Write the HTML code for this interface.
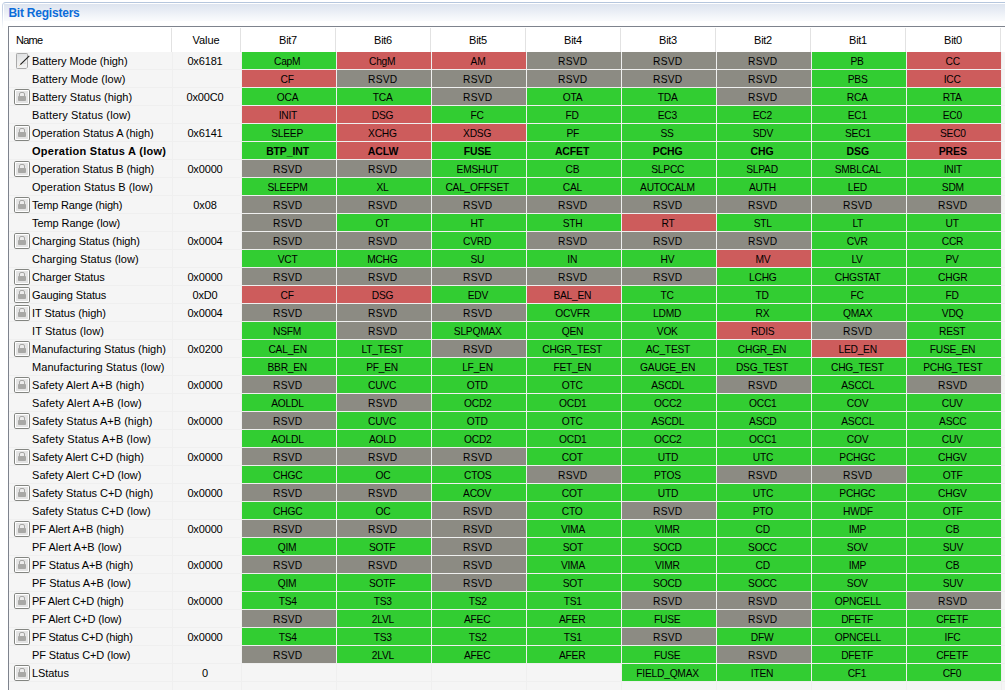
<!DOCTYPE html><html><head><meta charset="utf-8"><title>Bit Registers</title><style>
html,body{margin:0;padding:0;background:#fff;overflow:hidden;}
body{width:1005px;height:690px;overflow:hidden;position:relative;font-family:"Liberation Sans",sans-serif;font-size:11px;color:#000;}
#panel{position:absolute;left:2px;top:2px;width:1003px;height:27px;border-top:1px solid #b5c6dd;border-left:1px solid #c5d1e4;border-top-left-radius:4px;box-sizing:border-box;background:#fff;}
#grad{position:absolute;left:4px;top:4px;width:1001px;height:17px;background:linear-gradient(to bottom,#dde4ef 0px,#e7ecf4 6px,#f2f5f9 12px,#fafbfd 17px);}
#lfade{position:absolute;left:2px;top:10px;width:1px;height:19px;background:linear-gradient(to bottom,rgba(255,255,255,0),#fff);}
#title{position:absolute;left:8.4px;top:6px;letter-spacing:-0.22px;font-weight:bold;font-size:12px;color:#0c6cd9;line-height:15px;white-space:nowrap;}
#tbl{position:absolute;left:8px;top:26px;width:997px;height:664px;border-left:1px solid #7e838d;border-top:1px solid #7e838d;box-sizing:border-box;background:#f5f5f5;overflow:hidden;}
#hdr{position:absolute;left:0;top:0;width:996px;height:25px;background:#fff;}
.h{position:absolute;top:0;height:25px;line-height:26px;text-align:center;white-space:nowrap;letter-spacing:-0.3px;}
.hs{position:absolute;top:1px;width:1px;height:24px;background:#e2e2e2;}
.row{position:absolute;left:0;width:996px;height:18px;}
.row:after{content:"";position:absolute;left:0;top:17px;width:996px;height:1px;background:#efefef;}
.n{position:absolute;left:23px;top:0;line-height:18px;white-space:nowrap;}
.v{position:absolute;left:162px;width:68px;top:0;line-height:18px;text-align:center;white-space:nowrap;letter-spacing:-0.15px;}
.c{position:absolute;top:0;width:94px;height:17px;line-height:18px;text-align:center;white-space:nowrap;z-index:2;box-sizing:border-box;padding-right:3px;}
.c i{display:inline-block;font-style:normal;transform:scaleX(0.93);letter-spacing:-0.25px;}
.g{background:#32cd32;}
.r{background:#cd5c5c;}
.y{background:#8c8b83;}
.b{font-weight:bold;}

.c i.w{letter-spacing:0.25px;}
.b .c i{transform:scaleX(0.95);letter-spacing:-0.1px;}
.ic{position:absolute;left:5px;top:1px;}
.pen{left:5px;top:0px;}
.vl{position:absolute;top:25px;width:1px;height:638px;background:#efefef;z-index:1;}
</style></head><body>
<div id="panel"></div><div id="grad"></div><div id="lfade"></div><div id="title">Bit Registers</div>
<div id="tbl"><div id="hdr">
<div class="h" style="left:7px;text-align:left;letter-spacing:-0.75px">Name</div>
<div class="h" style="left:163px;width:68px;letter-spacing:-0.05px">Value</div>
<div class="hs" style="left:162px"></div>
<div class="hs" style="left:231px"></div>
<div class="h" style="left:232px;width:94px;">Bit7</div>
<div class="hs" style="left:326px"></div>
<div class="h" style="left:327px;width:94px;">Bit6</div>
<div class="hs" style="left:421px"></div>
<div class="h" style="left:422px;width:94px;">Bit5</div>
<div class="hs" style="left:516px"></div>
<div class="h" style="left:517px;width:94px;">Bit4</div>
<div class="hs" style="left:611px"></div>
<div class="h" style="left:612px;width:94px;">Bit3</div>
<div class="hs" style="left:706px"></div>
<div class="h" style="left:707px;width:94px;">Bit2</div>
<div class="hs" style="left:801px"></div>
<div class="h" style="left:802px;width:94px;">Bit1</div>
<div class="hs" style="left:896px"></div>
<div class="h" style="left:897px;width:94px;">Bit0</div>
<div class="hs" style="left:991px"></div>
</div>
<div class="vl" style="left:163px"></div>
<div class="vl" style="left:232px"></div>
<div class="vl" style="left:327px"></div>
<div class="vl" style="left:422px"></div>
<div class="vl" style="left:517px"></div>
<div class="vl" style="left:612px"></div>
<div class="vl" style="left:707px"></div>
<div class="vl" style="left:802px"></div>
<div class="vl" style="left:897px"></div>
<div class="vl" style="left:992px"></div>
<div class="row" style="top:25px"><svg class="ic pen" width="16" height="17" viewBox="0 0 16 17"><defs><linearGradient id="pg" x1="0" y1="0" x2="0.3" y2="1"><stop offset="0" stop-color="#dcdee0"/><stop offset="0.6" stop-color="#ededed"/><stop offset="1" stop-color="#f2f2f2"/></linearGradient></defs><path d="M3.3 1.5h9.4a0.8 0.8 0 0 1 0.8 0.8v12.9l-1.3 1.3H3.3a0.8 0.8 0 0 1 -0.8 -0.8V2.3a0.8 0.8 0 0 1 0.8 -0.8z" fill="url(#pg)" stroke="#a9a9a9"/><path d="M9.5 11.5l2.6 -0.6" stroke="#c9c9c9" stroke-width="0.8"/><path d="M15.3 3.9L6.3 12.7" stroke="#1e1e1e" stroke-width="1.15" fill="none"/><path d="M6.3 12.7l-0.7 0.7" stroke="#c39a55" stroke-width="0.95"/></svg><span class="n" style="letter-spacing:-0.056px">Battery Mode (high)</span><span class="v">0x6181</span><span class="c g" style="left:233px"><i>CapM</i></span><span class="c r" style="left:328px"><i>ChgM</i></span><span class="c r" style="left:423px"><i>AM</i></span><span class="c y" style="left:518px"><i class="w">RSVD</i></span><span class="c y" style="left:613px"><i class="w">RSVD</i></span><span class="c y" style="left:708px"><i class="w">RSVD</i></span><span class="c g" style="left:803px"><i>PB</i></span><span class="c r" style="left:898px"><i>CC</i></span></div>
<div class="row" style="top:43px"><span class="n" style="letter-spacing:0.065px">Battery Mode (low)</span><span class="c r" style="left:233px"><i>CF</i></span><span class="c y" style="left:328px"><i class="w">RSVD</i></span><span class="c y" style="left:423px"><i class="w">RSVD</i></span><span class="c y" style="left:518px"><i class="w">RSVD</i></span><span class="c y" style="left:613px"><i class="w">RSVD</i></span><span class="c y" style="left:708px"><i class="w">RSVD</i></span><span class="c g" style="left:803px"><i>PBS</i></span><span class="c r" style="left:898px"><i>ICC</i></span></div>
<div class="row" style="top:61px"><svg class="ic" width="16" height="16" viewBox="0 0 16 16"><rect x="0.5" y="0.5" width="15" height="15" rx="1.3" ry="1.3" fill="#fff" stroke="#838581"/><rect x="2" y="2" width="12" height="12" fill="#e4e4e4"/><path d="M5.5 7.2V5a1.5 1.5 0 0 1 1.5 -1.5h2a1.5 1.5 0 0 1 1.5 1.5V7.2" fill="#ececec" stroke="#a6a6a4" stroke-width="1"/><rect x="4" y="7" width="8" height="5" rx="0.9" fill="#a8a8a6"/></svg><span class="n" style="letter-spacing:-0.010px">Battery Status (high)</span><span class="v">0x00C0</span><span class="c g" style="left:233px"><i>OCA</i></span><span class="c g" style="left:328px"><i>TCA</i></span><span class="c y" style="left:423px"><i class="w">RSVD</i></span><span class="c g" style="left:518px"><i>OTA</i></span><span class="c g" style="left:613px"><i>TDA</i></span><span class="c y" style="left:708px"><i class="w">RSVD</i></span><span class="c g" style="left:803px"><i>RCA</i></span><span class="c g" style="left:898px"><i>RTA</i></span></div>
<div class="row" style="top:79px"><span class="n" style="letter-spacing:0.147px">Battery Status (low)</span><span class="c r" style="left:233px"><i>INIT</i></span><span class="c r" style="left:328px"><i>DSG</i></span><span class="c g" style="left:423px"><i>FC</i></span><span class="c g" style="left:518px"><i>FD</i></span><span class="c g" style="left:613px"><i>EC3</i></span><span class="c g" style="left:708px"><i>EC2</i></span><span class="c g" style="left:803px"><i>EC1</i></span><span class="c g" style="left:898px"><i>EC0</i></span></div>
<div class="row" style="top:97px"><svg class="ic" width="16" height="16" viewBox="0 0 16 16"><rect x="0.5" y="0.5" width="15" height="15" rx="1.3" ry="1.3" fill="#fff" stroke="#838581"/><rect x="2" y="2" width="12" height="12" fill="#e4e4e4"/><path d="M5.5 7.2V5a1.5 1.5 0 0 1 1.5 -1.5h2a1.5 1.5 0 0 1 1.5 1.5V7.2" fill="#ececec" stroke="#a6a6a4" stroke-width="1"/><rect x="4" y="7" width="8" height="5" rx="0.9" fill="#a8a8a6"/></svg><span class="n" style="letter-spacing:-0.050px">Operation Status A (high)</span><span class="v">0x6141</span><span class="c g" style="left:233px"><i>SLEEP</i></span><span class="c r" style="left:328px"><i>XCHG</i></span><span class="c r" style="left:423px"><i>XDSG</i></span><span class="c g" style="left:518px"><i>PF</i></span><span class="c g" style="left:613px"><i>SS</i></span><span class="c g" style="left:708px"><i>SDV</i></span><span class="c g" style="left:803px"><i>SEC1</i></span><span class="c r" style="left:898px"><i>SEC0</i></span></div>
<div class="row b" style="top:115px"><span class="n" style="letter-spacing:0.281px">Operation Status A (low)</span><span class="c g" style="left:233px"><i>BTP_INT</i></span><span class="c r" style="left:328px"><i>ACLW</i></span><span class="c g" style="left:423px"><i>FUSE</i></span><span class="c g" style="left:518px"><i>ACFET</i></span><span class="c g" style="left:613px"><i>PCHG</i></span><span class="c g" style="left:708px"><i>CHG</i></span><span class="c g" style="left:803px"><i>DSG</i></span><span class="c r" style="left:898px"><i>PRES</i></span></div>
<div class="row" style="top:133px"><svg class="ic" width="16" height="16" viewBox="0 0 16 16"><rect x="0.5" y="0.5" width="15" height="15" rx="1.3" ry="1.3" fill="#fff" stroke="#838581"/><rect x="2" y="2" width="12" height="12" fill="#e4e4e4"/><path d="M5.5 7.2V5a1.5 1.5 0 0 1 1.5 -1.5h2a1.5 1.5 0 0 1 1.5 1.5V7.2" fill="#ececec" stroke="#a6a6a4" stroke-width="1"/><rect x="4" y="7" width="8" height="5" rx="0.9" fill="#a8a8a6"/></svg><span class="n" style="letter-spacing:-0.083px">Operation Status B (high)</span><span class="v">0x0000</span><span class="c y" style="left:233px"><i class="w">RSVD</i></span><span class="c y" style="left:328px"><i class="w">RSVD</i></span><span class="c g" style="left:423px"><i>EMSHUT</i></span><span class="c g" style="left:518px"><i>CB</i></span><span class="c g" style="left:613px"><i>SLPCC</i></span><span class="c g" style="left:708px"><i>SLPAD</i></span><span class="c g" style="left:803px"><i>SMBLCAL</i></span><span class="c g" style="left:898px"><i>INIT</i></span></div>
<div class="row" style="top:151px"><span class="n" style="letter-spacing:0.043px">Operation Status B (low)</span><span class="c g" style="left:233px"><i>SLEEPM</i></span><span class="c g" style="left:328px"><i>XL</i></span><span class="c g" style="left:423px"><i>CAL_OFFSET</i></span><span class="c g" style="left:518px"><i>CAL</i></span><span class="c g" style="left:613px"><i>AUTOCALM</i></span><span class="c g" style="left:708px"><i>AUTH</i></span><span class="c g" style="left:803px"><i>LED</i></span><span class="c g" style="left:898px"><i>SDM</i></span></div>
<div class="row" style="top:169px"><svg class="ic" width="16" height="16" viewBox="0 0 16 16"><rect x="0.5" y="0.5" width="15" height="15" rx="1.3" ry="1.3" fill="#fff" stroke="#838581"/><rect x="2" y="2" width="12" height="12" fill="#e4e4e4"/><path d="M5.5 7.2V5a1.5 1.5 0 0 1 1.5 -1.5h2a1.5 1.5 0 0 1 1.5 1.5V7.2" fill="#ececec" stroke="#a6a6a4" stroke-width="1"/><rect x="4" y="7" width="8" height="5" rx="0.9" fill="#a8a8a6"/></svg><span class="n" style="letter-spacing:-0.194px">Temp Range (high)</span><span class="v">0x08</span><span class="c y" style="left:233px"><i class="w">RSVD</i></span><span class="c y" style="left:328px"><i class="w">RSVD</i></span><span class="c y" style="left:423px"><i class="w">RSVD</i></span><span class="c y" style="left:518px"><i class="w">RSVD</i></span><span class="c y" style="left:613px"><i class="w">RSVD</i></span><span class="c y" style="left:708px"><i class="w">RSVD</i></span><span class="c y" style="left:803px"><i class="w">RSVD</i></span><span class="c y" style="left:898px"><i class="w">RSVD</i></span></div>
<div class="row" style="top:187px"><span class="n" style="letter-spacing:-0.073px">Temp Range (low)</span><span class="c y" style="left:233px"><i class="w">RSVD</i></span><span class="c g" style="left:328px"><i>OT</i></span><span class="c g" style="left:423px"><i>HT</i></span><span class="c g" style="left:518px"><i>STH</i></span><span class="c r" style="left:613px"><i>RT</i></span><span class="c g" style="left:708px"><i>STL</i></span><span class="c g" style="left:803px"><i>LT</i></span><span class="c g" style="left:898px"><i>UT</i></span></div>
<div class="row" style="top:205px"><svg class="ic" width="16" height="16" viewBox="0 0 16 16"><rect x="0.5" y="0.5" width="15" height="15" rx="1.3" ry="1.3" fill="#fff" stroke="#838581"/><rect x="2" y="2" width="12" height="12" fill="#e4e4e4"/><path d="M5.5 7.2V5a1.5 1.5 0 0 1 1.5 -1.5h2a1.5 1.5 0 0 1 1.5 1.5V7.2" fill="#ececec" stroke="#a6a6a4" stroke-width="1"/><rect x="4" y="7" width="8" height="5" rx="0.9" fill="#a8a8a6"/></svg><span class="n" style="letter-spacing:-0.100px">Charging Status (high)</span><span class="v">0x0004</span><span class="c y" style="left:233px"><i class="w">RSVD</i></span><span class="c y" style="left:328px"><i class="w">RSVD</i></span><span class="c g" style="left:423px"><i>CVRD</i></span><span class="c y" style="left:518px"><i class="w">RSVD</i></span><span class="c y" style="left:613px"><i class="w">RSVD</i></span><span class="c y" style="left:708px"><i class="w">RSVD</i></span><span class="c g" style="left:803px"><i>CVR</i></span><span class="c g" style="left:898px"><i>CCR</i></span></div>
<div class="row" style="top:223px"><span class="n" style="letter-spacing:0.045px">Charging Status (low)</span><span class="c g" style="left:233px"><i>VCT</i></span><span class="c g" style="left:328px"><i>MCHG</i></span><span class="c g" style="left:423px"><i>SU</i></span><span class="c g" style="left:518px"><i>IN</i></span><span class="c g" style="left:613px"><i>HV</i></span><span class="c r" style="left:708px"><i>MV</i></span><span class="c g" style="left:803px"><i>LV</i></span><span class="c g" style="left:898px"><i>PV</i></span></div>
<div class="row" style="top:241px"><svg class="ic" width="16" height="16" viewBox="0 0 16 16"><rect x="0.5" y="0.5" width="15" height="15" rx="1.3" ry="1.3" fill="#fff" stroke="#838581"/><rect x="2" y="2" width="12" height="12" fill="#e4e4e4"/><path d="M5.5 7.2V5a1.5 1.5 0 0 1 1.5 -1.5h2a1.5 1.5 0 0 1 1.5 1.5V7.2" fill="#ececec" stroke="#a6a6a4" stroke-width="1"/><rect x="4" y="7" width="8" height="5" rx="0.9" fill="#a8a8a6"/></svg><span class="n" style="letter-spacing:-0.100px">Charger Status</span><span class="v">0x0000</span><span class="c y" style="left:233px"><i class="w">RSVD</i></span><span class="c y" style="left:328px"><i class="w">RSVD</i></span><span class="c y" style="left:423px"><i class="w">RSVD</i></span><span class="c y" style="left:518px"><i class="w">RSVD</i></span><span class="c y" style="left:613px"><i class="w">RSVD</i></span><span class="c g" style="left:708px"><i>LCHG</i></span><span class="c g" style="left:803px"><i>CHGSTAT</i></span><span class="c g" style="left:898px"><i>CHGR</i></span></div>
<div class="row" style="top:259px"><svg class="ic" width="16" height="16" viewBox="0 0 16 16"><rect x="0.5" y="0.5" width="15" height="15" rx="1.3" ry="1.3" fill="#fff" stroke="#838581"/><rect x="2" y="2" width="12" height="12" fill="#e4e4e4"/><path d="M5.5 7.2V5a1.5 1.5 0 0 1 1.5 -1.5h2a1.5 1.5 0 0 1 1.5 1.5V7.2" fill="#ececec" stroke="#a6a6a4" stroke-width="1"/><rect x="4" y="7" width="8" height="5" rx="0.9" fill="#a8a8a6"/></svg><span class="n" style="letter-spacing:-0.115px">Gauging Status</span><span class="v">0xD0</span><span class="c r" style="left:233px"><i>CF</i></span><span class="c r" style="left:328px"><i>DSG</i></span><span class="c g" style="left:423px"><i>EDV</i></span><span class="c r" style="left:518px"><i>BAL_EN</i></span><span class="c g" style="left:613px"><i>TC</i></span><span class="c g" style="left:708px"><i>TD</i></span><span class="c g" style="left:803px"><i>FC</i></span><span class="c g" style="left:898px"><i>FD</i></span></div>
<div class="row" style="top:277px"><svg class="ic" width="16" height="16" viewBox="0 0 16 16"><rect x="0.5" y="0.5" width="15" height="15" rx="1.3" ry="1.3" fill="#fff" stroke="#838581"/><rect x="2" y="2" width="12" height="12" fill="#e4e4e4"/><path d="M5.5 7.2V5a1.5 1.5 0 0 1 1.5 -1.5h2a1.5 1.5 0 0 1 1.5 1.5V7.2" fill="#ececec" stroke="#a6a6a4" stroke-width="1"/><rect x="4" y="7" width="8" height="5" rx="0.9" fill="#a8a8a6"/></svg><span class="n" style="letter-spacing:-0.067px">IT Status (high)</span><span class="v">0x0004</span><span class="c y" style="left:233px"><i class="w">RSVD</i></span><span class="c y" style="left:328px"><i class="w">RSVD</i></span><span class="c y" style="left:423px"><i class="w">RSVD</i></span><span class="c g" style="left:518px"><i>OCVFR</i></span><span class="c g" style="left:613px"><i>LDMD</i></span><span class="c g" style="left:708px"><i>RX</i></span><span class="c g" style="left:803px"><i>QMAX</i></span><span class="c g" style="left:898px"><i>VDQ</i></span></div>
<div class="row" style="top:295px"><span class="n" style="letter-spacing:0.086px">IT Status (low)</span><span class="c g" style="left:233px"><i>NSFM</i></span><span class="c y" style="left:328px"><i class="w">RSVD</i></span><span class="c g" style="left:423px"><i>SLPQMAX</i></span><span class="c g" style="left:518px"><i>QEN</i></span><span class="c g" style="left:613px"><i>VOK</i></span><span class="c r" style="left:708px"><i>RDIS</i></span><span class="c y" style="left:803px"><i class="w">RSVD</i></span><span class="c g" style="left:898px"><i>REST</i></span></div>
<div class="row" style="top:313px"><svg class="ic" width="16" height="16" viewBox="0 0 16 16"><rect x="0.5" y="0.5" width="15" height="15" rx="1.3" ry="1.3" fill="#fff" stroke="#838581"/><rect x="2" y="2" width="12" height="12" fill="#e4e4e4"/><path d="M5.5 7.2V5a1.5 1.5 0 0 1 1.5 -1.5h2a1.5 1.5 0 0 1 1.5 1.5V7.2" fill="#ececec" stroke="#a6a6a4" stroke-width="1"/><rect x="4" y="7" width="8" height="5" rx="0.9" fill="#a8a8a6"/></svg><span class="n" style="letter-spacing:-0.046px">Manufacturing Status (high)</span><span class="v">0x0200</span><span class="c g" style="left:233px"><i>CAL_EN</i></span><span class="c g" style="left:328px"><i>LT_TEST</i></span><span class="c y" style="left:423px"><i class="w">RSVD</i></span><span class="c g" style="left:518px"><i>CHGR_TEST</i></span><span class="c g" style="left:613px"><i>AC_TEST</i></span><span class="c g" style="left:708px"><i>CHGR_EN</i></span><span class="c r" style="left:803px"><i>LED_EN</i></span><span class="c g" style="left:898px"><i>FUSE_EN</i></span></div>
<div class="row" style="top:331px"><span class="n" style="letter-spacing:0.068px">Manufacturing Status (low)</span><span class="c g" style="left:233px"><i>BBR_EN</i></span><span class="c g" style="left:328px"><i>PF_EN</i></span><span class="c g" style="left:423px"><i>LF_EN</i></span><span class="c g" style="left:518px"><i>FET_EN</i></span><span class="c g" style="left:613px"><i>GAUGE_EN</i></span><span class="c g" style="left:708px"><i>DSG_TEST</i></span><span class="c g" style="left:803px"><i>CHG_TEST</i></span><span class="c g" style="left:898px"><i>PCHG_TEST</i></span></div>
<div class="row" style="top:349px"><svg class="ic" width="16" height="16" viewBox="0 0 16 16"><rect x="0.5" y="0.5" width="15" height="15" rx="1.3" ry="1.3" fill="#fff" stroke="#838581"/><rect x="2" y="2" width="12" height="12" fill="#e4e4e4"/><path d="M5.5 7.2V5a1.5 1.5 0 0 1 1.5 -1.5h2a1.5 1.5 0 0 1 1.5 1.5V7.2" fill="#ececec" stroke="#a6a6a4" stroke-width="1"/><rect x="4" y="7" width="8" height="5" rx="0.9" fill="#a8a8a6"/></svg><span class="n" style="letter-spacing:0.050px">Safety Alert A+B (high)</span><span class="v">0x0000</span><span class="c y" style="left:233px"><i class="w">RSVD</i></span><span class="c g" style="left:328px"><i>CUVC</i></span><span class="c g" style="left:423px"><i>OTD</i></span><span class="c g" style="left:518px"><i>OTC</i></span><span class="c g" style="left:613px"><i>ASCDL</i></span><span class="c y" style="left:708px"><i class="w">RSVD</i></span><span class="c g" style="left:803px"><i>ASCCL</i></span><span class="c y" style="left:898px"><i class="w">RSVD</i></span></div>
<div class="row" style="top:367px"><span class="n" style="letter-spacing:0.143px">Safety Alert A+B (low)</span><span class="c g" style="left:233px"><i>AOLDL</i></span><span class="c y" style="left:328px"><i class="w">RSVD</i></span><span class="c g" style="left:423px"><i>OCD2</i></span><span class="c g" style="left:518px"><i>OCD1</i></span><span class="c g" style="left:613px"><i>OCC2</i></span><span class="c g" style="left:708px"><i>OCC1</i></span><span class="c g" style="left:803px"><i>COV</i></span><span class="c g" style="left:898px"><i>CUV</i></span></div>
<div class="row" style="top:385px"><svg class="ic" width="16" height="16" viewBox="0 0 16 16"><rect x="0.5" y="0.5" width="15" height="15" rx="1.3" ry="1.3" fill="#fff" stroke="#838581"/><rect x="2" y="2" width="12" height="12" fill="#e4e4e4"/><path d="M5.5 7.2V5a1.5 1.5 0 0 1 1.5 -1.5h2a1.5 1.5 0 0 1 1.5 1.5V7.2" fill="#ececec" stroke="#a6a6a4" stroke-width="1"/><rect x="4" y="7" width="8" height="5" rx="0.9" fill="#a8a8a6"/></svg><span class="n" style="letter-spacing:0.009px">Safety Status A+B (high)</span><span class="v">0x0000</span><span class="c y" style="left:233px"><i class="w">RSVD</i></span><span class="c g" style="left:328px"><i>CUVC</i></span><span class="c g" style="left:423px"><i>OTD</i></span><span class="c g" style="left:518px"><i>OTC</i></span><span class="c g" style="left:613px"><i>ASCDL</i></span><span class="c g" style="left:708px"><i>ASCD</i></span><span class="c g" style="left:803px"><i>ASCCL</i></span><span class="c g" style="left:898px"><i>ASCC</i></span></div>
<div class="row" style="top:403px"><span class="n" style="letter-spacing:0.141px">Safety Status A+B (low)</span><span class="c g" style="left:233px"><i>AOLDL</i></span><span class="c g" style="left:328px"><i>AOLD</i></span><span class="c g" style="left:423px"><i>OCD2</i></span><span class="c g" style="left:518px"><i>OCD1</i></span><span class="c g" style="left:613px"><i>OCC2</i></span><span class="c g" style="left:708px"><i>OCC1</i></span><span class="c g" style="left:803px"><i>COV</i></span><span class="c g" style="left:898px"><i>CUV</i></span></div>
<div class="row" style="top:421px"><svg class="ic" width="16" height="16" viewBox="0 0 16 16"><rect x="0.5" y="0.5" width="15" height="15" rx="1.3" ry="1.3" fill="#fff" stroke="#838581"/><rect x="2" y="2" width="12" height="12" fill="#e4e4e4"/><path d="M5.5 7.2V5a1.5 1.5 0 0 1 1.5 -1.5h2a1.5 1.5 0 0 1 1.5 1.5V7.2" fill="#ececec" stroke="#a6a6a4" stroke-width="1"/><rect x="4" y="7" width="8" height="5" rx="0.9" fill="#a8a8a6"/></svg><span class="n" style="letter-spacing:-0.041px">Safety Alert C+D (high)</span><span class="v">0x0000</span><span class="c y" style="left:233px"><i class="w">RSVD</i></span><span class="c y" style="left:328px"><i class="w">RSVD</i></span><span class="c y" style="left:423px"><i class="w">RSVD</i></span><span class="c g" style="left:518px"><i>COT</i></span><span class="c g" style="left:613px"><i>UTD</i></span><span class="c g" style="left:708px"><i>UTC</i></span><span class="c g" style="left:803px"><i>PCHGC</i></span><span class="c g" style="left:898px"><i>CHGV</i></span></div>
<div class="row" style="top:439px"><span class="n" style="letter-spacing:0.048px">Safety Alert C+D (low)</span><span class="c g" style="left:233px"><i>CHGC</i></span><span class="c g" style="left:328px"><i>OC</i></span><span class="c g" style="left:423px"><i>CTOS</i></span><span class="c y" style="left:518px"><i class="w">RSVD</i></span><span class="c g" style="left:613px"><i>PTOS</i></span><span class="c y" style="left:708px"><i class="w">RSVD</i></span><span class="c y" style="left:803px"><i class="w">RSVD</i></span><span class="c g" style="left:898px"><i>OTF</i></span></div>
<div class="row" style="top:457px"><svg class="ic" width="16" height="16" viewBox="0 0 16 16"><rect x="0.5" y="0.5" width="15" height="15" rx="1.3" ry="1.3" fill="#fff" stroke="#838581"/><rect x="2" y="2" width="12" height="12" fill="#e4e4e4"/><path d="M5.5 7.2V5a1.5 1.5 0 0 1 1.5 -1.5h2a1.5 1.5 0 0 1 1.5 1.5V7.2" fill="#ececec" stroke="#a6a6a4" stroke-width="1"/><rect x="4" y="7" width="8" height="5" rx="0.9" fill="#a8a8a6"/></svg><span class="n" style="letter-spacing:-0.035px">Safety Status C+D (high)</span><span class="v">0x0000</span><span class="c y" style="left:233px"><i class="w">RSVD</i></span><span class="c y" style="left:328px"><i class="w">RSVD</i></span><span class="c g" style="left:423px"><i>ACOV</i></span><span class="c g" style="left:518px"><i>COT</i></span><span class="c g" style="left:613px"><i>UTD</i></span><span class="c g" style="left:708px"><i>UTC</i></span><span class="c g" style="left:803px"><i>PCHGC</i></span><span class="c g" style="left:898px"><i>CHGV</i></span></div>
<div class="row" style="top:475px"><span class="n" style="letter-spacing:0.050px">Safety Status C+D (low)</span><span class="c g" style="left:233px"><i>CHGC</i></span><span class="c g" style="left:328px"><i>OC</i></span><span class="c y" style="left:423px"><i class="w">RSVD</i></span><span class="c g" style="left:518px"><i>CTO</i></span><span class="c y" style="left:613px"><i class="w">RSVD</i></span><span class="c g" style="left:708px"><i>PTO</i></span><span class="c g" style="left:803px"><i>HWDF</i></span><span class="c g" style="left:898px"><i>OTF</i></span></div>
<div class="row" style="top:493px"><svg class="ic" width="16" height="16" viewBox="0 0 16 16"><rect x="0.5" y="0.5" width="15" height="15" rx="1.3" ry="1.3" fill="#fff" stroke="#838581"/><rect x="2" y="2" width="12" height="12" fill="#e4e4e4"/><path d="M5.5 7.2V5a1.5 1.5 0 0 1 1.5 -1.5h2a1.5 1.5 0 0 1 1.5 1.5V7.2" fill="#ececec" stroke="#a6a6a4" stroke-width="1"/><rect x="4" y="7" width="8" height="5" rx="0.9" fill="#a8a8a6"/></svg><span class="n" style="letter-spacing:-0.111px">PF Alert A+B (high)</span><span class="v">0x0000</span><span class="c y" style="left:233px"><i class="w">RSVD</i></span><span class="c y" style="left:328px"><i class="w">RSVD</i></span><span class="c y" style="left:423px"><i class="w">RSVD</i></span><span class="c g" style="left:518px"><i>VIMA</i></span><span class="c g" style="left:613px"><i>VIMR</i></span><span class="c g" style="left:708px"><i>CD</i></span><span class="c g" style="left:803px"><i>IMP</i></span><span class="c g" style="left:898px"><i>CB</i></span></div>
<div class="row" style="top:511px"><span class="n" style="letter-spacing:0.000px">PF Alert A+B (low)</span><span class="c g" style="left:233px"><i>QIM</i></span><span class="c g" style="left:328px"><i>SOTF</i></span><span class="c y" style="left:423px"><i class="w">RSVD</i></span><span class="c g" style="left:518px"><i>SOT</i></span><span class="c g" style="left:613px"><i>SOCD</i></span><span class="c g" style="left:708px"><i>SOCC</i></span><span class="c g" style="left:803px"><i>SOV</i></span><span class="c g" style="left:898px"><i>SUV</i></span></div>
<div class="row" style="top:529px"><svg class="ic" width="16" height="16" viewBox="0 0 16 16"><rect x="0.5" y="0.5" width="15" height="15" rx="1.3" ry="1.3" fill="#fff" stroke="#838581"/><rect x="2" y="2" width="12" height="12" fill="#e4e4e4"/><path d="M5.5 7.2V5a1.5 1.5 0 0 1 1.5 -1.5h2a1.5 1.5 0 0 1 1.5 1.5V7.2" fill="#ececec" stroke="#a6a6a4" stroke-width="1"/><rect x="4" y="7" width="8" height="5" rx="0.9" fill="#a8a8a6"/></svg><span class="n" style="letter-spacing:-0.100px">PF Status A+B (high)</span><span class="v">0x0000</span><span class="c y" style="left:233px"><i class="w">RSVD</i></span><span class="c y" style="left:328px"><i class="w">RSVD</i></span><span class="c y" style="left:423px"><i class="w">RSVD</i></span><span class="c g" style="left:518px"><i>VIMA</i></span><span class="c g" style="left:613px"><i>VIMR</i></span><span class="c g" style="left:708px"><i>CD</i></span><span class="c g" style="left:803px"><i>IMP</i></span><span class="c g" style="left:898px"><i>CB</i></span></div>
<div class="row" style="top:547px"><span class="n" style="letter-spacing:0.006px">PF Status A+B (low)</span><span class="c g" style="left:233px"><i>QIM</i></span><span class="c g" style="left:328px"><i>SOTF</i></span><span class="c y" style="left:423px"><i class="w">RSVD</i></span><span class="c g" style="left:518px"><i>SOT</i></span><span class="c g" style="left:613px"><i>SOCD</i></span><span class="c g" style="left:708px"><i>SOCC</i></span><span class="c g" style="left:803px"><i>SOV</i></span><span class="c g" style="left:898px"><i>SUV</i></span></div>
<div class="row" style="top:565px"><svg class="ic" width="16" height="16" viewBox="0 0 16 16"><rect x="0.5" y="0.5" width="15" height="15" rx="1.3" ry="1.3" fill="#fff" stroke="#838581"/><rect x="2" y="2" width="12" height="12" fill="#e4e4e4"/><path d="M5.5 7.2V5a1.5 1.5 0 0 1 1.5 -1.5h2a1.5 1.5 0 0 1 1.5 1.5V7.2" fill="#ececec" stroke="#a6a6a4" stroke-width="1"/><rect x="4" y="7" width="8" height="5" rx="0.9" fill="#a8a8a6"/></svg><span class="n" style="letter-spacing:-0.217px">PF Alert C+D (high)</span><span class="v">0x0000</span><span class="c g" style="left:233px"><i>TS4</i></span><span class="c g" style="left:328px"><i>TS3</i></span><span class="c g" style="left:423px"><i>TS2</i></span><span class="c g" style="left:518px"><i>TS1</i></span><span class="c y" style="left:613px"><i class="w">RSVD</i></span><span class="c y" style="left:708px"><i class="w">RSVD</i></span><span class="c g" style="left:803px"><i>OPNCELL</i></span><span class="c y" style="left:898px"><i class="w">RSVD</i></span></div>
<div class="row" style="top:583px"><span class="n" style="letter-spacing:-0.100px">PF Alert C+D (low)</span><span class="c y" style="left:233px"><i class="w">RSVD</i></span><span class="c g" style="left:328px"><i>2LVL</i></span><span class="c g" style="left:423px"><i>AFEC</i></span><span class="c g" style="left:518px"><i>AFER</i></span><span class="c g" style="left:613px"><i>FUSE</i></span><span class="c y" style="left:708px"><i class="w">RSVD</i></span><span class="c g" style="left:803px"><i>DFETF</i></span><span class="c g" style="left:898px"><i>CFETF</i></span></div>
<div class="row" style="top:601px"><svg class="ic" width="16" height="16" viewBox="0 0 16 16"><rect x="0.5" y="0.5" width="15" height="15" rx="1.3" ry="1.3" fill="#fff" stroke="#838581"/><rect x="2" y="2" width="12" height="12" fill="#e4e4e4"/><path d="M5.5 7.2V5a1.5 1.5 0 0 1 1.5 -1.5h2a1.5 1.5 0 0 1 1.5 1.5V7.2" fill="#ececec" stroke="#a6a6a4" stroke-width="1"/><rect x="4" y="7" width="8" height="5" rx="0.9" fill="#a8a8a6"/></svg><span class="n" style="letter-spacing:-0.211px">PF Status C+D (high)</span><span class="v">0x0000</span><span class="c g" style="left:233px"><i>TS4</i></span><span class="c g" style="left:328px"><i>TS3</i></span><span class="c g" style="left:423px"><i>TS2</i></span><span class="c g" style="left:518px"><i>TS1</i></span><span class="c y" style="left:613px"><i class="w">RSVD</i></span><span class="c g" style="left:708px"><i>DFW</i></span><span class="c g" style="left:803px"><i>OPNCELL</i></span><span class="c g" style="left:898px"><i>IFC</i></span></div>
<div class="row" style="top:619px"><span class="n" style="letter-spacing:-0.117px">PF Status C+D (low)</span><span class="c y" style="left:233px"><i class="w">RSVD</i></span><span class="c g" style="left:328px"><i>2LVL</i></span><span class="c g" style="left:423px"><i>AFEC</i></span><span class="c g" style="left:518px"><i>AFER</i></span><span class="c g" style="left:613px"><i>FUSE</i></span><span class="c y" style="left:708px"><i class="w">RSVD</i></span><span class="c g" style="left:803px"><i>DFETF</i></span><span class="c g" style="left:898px"><i>CFETF</i></span></div>
<div class="row" style="top:637px"><svg class="ic" width="16" height="16" viewBox="0 0 16 16"><rect x="0.5" y="0.5" width="15" height="15" rx="1.3" ry="1.3" fill="#fff" stroke="#838581"/><rect x="2" y="2" width="12" height="12" fill="#e4e4e4"/><path d="M5.5 7.2V5a1.5 1.5 0 0 1 1.5 -1.5h2a1.5 1.5 0 0 1 1.5 1.5V7.2" fill="#ececec" stroke="#a6a6a4" stroke-width="1"/><rect x="4" y="7" width="8" height="5" rx="0.9" fill="#a8a8a6"/></svg><span class="n" style="letter-spacing:-0.067px">LStatus</span><span class="v">0</span><span class="c g" style="left:613px"><i>FIELD_QMAX</i></span><span class="c g" style="left:708px"><i>ITEN</i></span><span class="c g" style="left:803px"><i>CF1</i></span><span class="c g" style="left:898px"><i>CF0</i></span></div>
</div></body></html>
